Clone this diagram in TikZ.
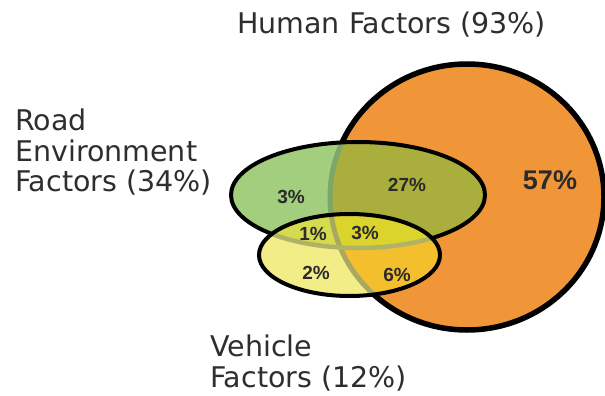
\documentclass[tikz,border=0pt]{standalone}
\usepackage{fontspec}
\setmainfont{DejaVu Sans}
\newfontfamily\numfont{Liberation Sans}
\definecolor{cOrange}{HTML}{F19638}
\definecolor{cLGreen}{HTML}{A2CE7E}
\definecolor{cOlive}{HTML}{AAAE3C}
\definecolor{cLYellow}{HTML}{F3ED88}
\definecolor{cYG}{HTML}{D5DB4E}
\definecolor{cY3}{HTML}{DAD42C}
\definecolor{cGold}{HTML}{F3BF2C}
\definecolor{cBandG}{HTML}{7DA66A}
\definecolor{cBandY}{HTML}{A8A860}
\definecolor{cBandY2}{HTML}{B0B268}
\definecolor{cLabel}{HTML}{2E2E2E}
\definecolor{cNum}{HTML}{2A2A2A}
\tikzset{
  lbl/.style={anchor=base west, inner sep=0pt, text=cLabel, font=\fontsize{28.5}{30}\selectfont},
  num/.style={inner sep=0pt, text=cNum, font=\numfont\bfseries\fontsize{19}{19}\selectfont},
  bignum/.style={inner sep=0pt, text=cNum, font=\numfont\bfseries\fontsize{27}{27}\selectfont},
  outline/.style={draw=black, line width=4pt},
}
\def\orangeE{(467,197) ellipse [x radius=137, y radius=133]}
\def\greenE{(358,195) ellipse [x radius=127, y radius=53]}
\def\yellowE{(349.5,255) ellipse [x radius=90.5, y radius=41]}
\begin{document}
\begin{tikzpicture}[x=1pt,y=-1pt]
\useasboundingbox (0,0) rectangle (605,396);
% Human factors circle
\fill[cOrange] \orangeE;
\draw[black, line width=5.5pt] \orangeE;
% Road environment ellipse
\fill[cLGreen] \greenE;
\begin{scope}
  \clip \orangeE;
  \fill[cOlive] \greenE;
\end{scope}
\begin{scope}
  \clip \greenE;
  \draw[cBandG, line width=5pt] \orangeE;
\end{scope}
\draw[outline] \greenE;
% Vehicle ellipse
\fill[cLYellow] \yellowE;
\begin{scope}
  \clip \yellowE;
  \fill[cGold] \orangeE;
  \fill[cYG] \greenE;
  \clip \greenE;
  \fill[cY3] \orangeE;
\end{scope}
\begin{scope}
  \clip \yellowE;
  \draw[cBandY, line width=5pt] \orangeE;
  \draw[cBandY2, line width=4.5pt] \greenE;
\end{scope}
\draw[outline] \yellowE;
% labels
\node[lbl] (human) at (237,34) {Human Factors (93\%)};
\node[lbl] (road1) at (15,130) {Road};
\node[lbl] (road2) at (15,161) {Environment};
\node[lbl] (road3) at (15,191) {Factors (34\%)};
\node[lbl] (veh1) at (210,356) {Vehicle};
\node[lbl] (veh2) at (210,387) {Factors (12\%)};
% numbers
\node[bignum] (n57) at (550,180) {57\%};
\node[num] (n27) at (407,185) {27\%};
\node[num] (n3a) at (291,197) {3\%};
\node[num] (n1) at (313,234) {1\%};
\node[num] (n3b) at (365,233) {3\%};
\node[num] (n2) at (316,273) {2\%};
\node[num] (n6) at (397,275) {6\%};
\end{tikzpicture}
\end{document}
